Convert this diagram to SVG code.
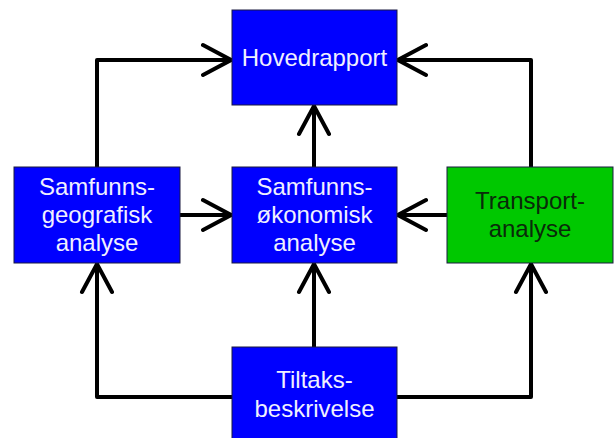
<svg xmlns="http://www.w3.org/2000/svg" width="614" height="438" viewBox="0 0 614 438">
<defs>
<style>
.box{stroke:#1a1a40;stroke-width:1}
.blue{fill:#0000ff}
.green{fill:#00c800}
.t{font-family:"Liberation Sans",Arial,sans-serif;font-size:24px;text-anchor:middle;fill:#f0f0ff}
.tg{fill:#0a2a0a}
.c{fill:none;stroke:#000;stroke-width:4;stroke-linejoin:round;stroke-linecap:round}
</style>
<marker id="ah" markerUnits="userSpaceOnUse" viewBox="-32 -18 36 36" refX="0" refY="0" markerWidth="36" markerHeight="36" orient="auto">
<path d="M-28,-15 L0,0 L-28,15" fill="none" stroke="#000" stroke-width="4" stroke-linecap="round" stroke-linejoin="miter"/>
</marker>
</defs>
<rect width="614" height="438" fill="#fff"/>
<g id="connectors">
<path class="c" d="M97,167 V60 H231" marker-end="url(#ah)"/>
<path class="c" d="M531,167 V60 H398" marker-end="url(#ah)"/>
<path class="c" d="M314,167 V106" marker-end="url(#ah)"/>
<path class="c" d="M180,215 H231" marker-end="url(#ah)"/>
<path class="c" d="M447,215 H398" marker-end="url(#ah)"/>
<path class="c" d="M232,397 H97 V264" marker-end="url(#ah)"/>
<path class="c" d="M314,347 V264" marker-end="url(#ah)"/>
<path class="c" d="M397,397 H531 V264" marker-end="url(#ah)"/>
</g>
<g id="hovedrapport">
<rect class="box blue" x="232" y="10" width="165" height="95"/>
<text class="t" x="314.5" y="66">Hovedrapport</text>
</g>
<g id="samfunnsgeografisk">
<rect class="box blue" x="14" y="167" width="166" height="96"/>
<text class="t" x="97" y="195">Samfunns-</text>
<text class="t" x="97" y="223">geografisk</text>
<text class="t" x="97" y="251">analyse</text>
</g>
<g id="samfunnsokonomisk">
<rect class="box blue" x="232" y="167" width="165" height="96"/>
<text class="t" x="314.5" y="195">Samfunns-</text>
<text class="t" x="314.5" y="223">økonomisk</text>
<text class="t" x="314.5" y="251">analyse</text>
</g>
<g id="transportanalyse">
<rect class="box green" x="447" y="167" width="166" height="96"/>
<text class="t tg" x="530" y="209">Transport-</text>
<text class="t tg" x="530" y="237">analyse</text>
</g>
<g id="tiltaksbeskrivelse">
<rect class="box blue" x="232" y="347" width="165" height="95"/>
<text class="t" x="314.5" y="388">Tiltaks-</text>
<text class="t" x="314.5" y="417">beskrivelse</text>
</g>
</svg>
